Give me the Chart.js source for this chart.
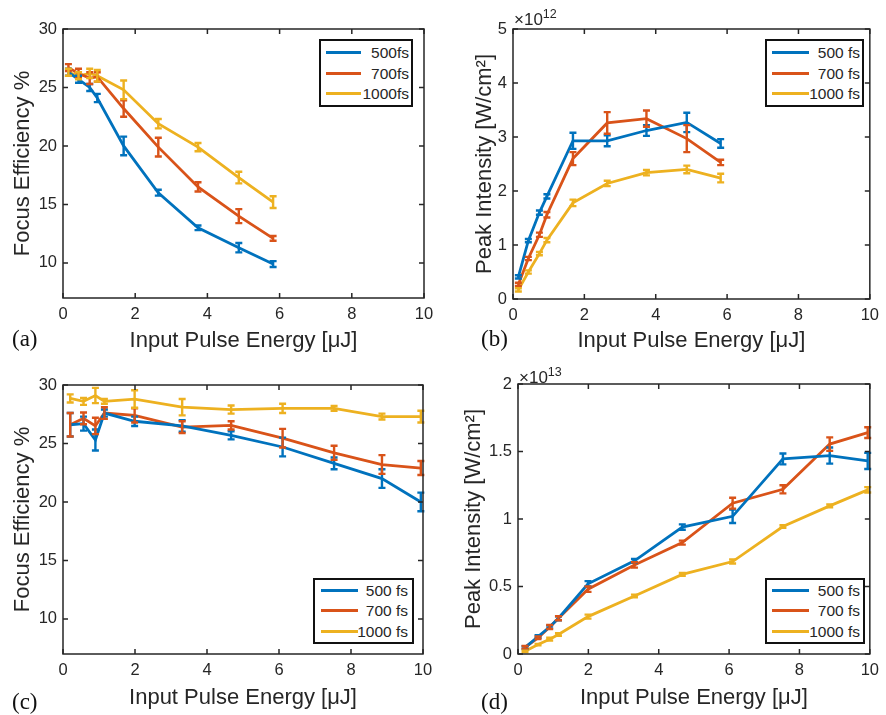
<!DOCTYPE html>
<html>
<head>
    <title>Focus efficiency and peak intensity</title>
    <script src="https://cdn.jsdelivr.net/npm/chart.js"></script>
    <style>
        body { margin: 0; background: #fff; }
        #fig {
            position: relative;
            width: 886px;
            height: 715px;
            background: #fff;
            font-family: "Liberation Sans", Arial, sans-serif;
            color: #262626;
        }
        #fig canvas { position: absolute; }
        .tag {
            position: absolute;
            font-family: "Liberation Serif", "Times New Roman", serif;
            font-size: 23px;
            line-height: 1;
            color: #111;
        }
        .mult { position: absolute; font-size: 17px; line-height: 1; }
        .mult sup { font-size: 12.5px; vertical-align: 7px; }
        .legend {
            position: absolute;
            box-sizing: border-box;
            border: 2px solid #111;
            background: #fff;
            font-size: 15.5px;
        }
        .legend .swatch { position: absolute; height: 3px; }
        .legend .txt { position: absolute; line-height: 1; white-space: nowrap; }
    </style>
</head>
<body>
<div id="fig">
    <canvas id="chartA" width="443" height="357" style="left:0;top:0"></canvas>
    <canvas id="chartB" width="443" height="357" style="left:443px;top:0"></canvas>
    <canvas id="chartC" width="443" height="358" style="left:0;top:357px"></canvas>
    <canvas id="chartD" width="443" height="358" style="left:443px;top:357px"></canvas>

    <div class="tag" style="left:12px;top:327px">(a)</div>
    <div class="tag" style="left:481px;top:327px">(b)</div>
    <div class="tag" style="left:12px;top:690px">(c)</div>
    <div class="tag" style="left:481px;top:690px">(d)</div>

    <div class="mult" style="left:514px;top:8px">×10<sup>12</sup></div>
    <div class="mult" style="left:519px;top:366px">×10<sup>13</sup></div>
</div>

<script>
    // серии и цвета (MATLAB по умолчанию)
    const namesTop = ['500fs', '700fs', '1000fs'];
    const namesFs = ['500 fs', '700 fs', '1000 fs'];
    const colors = ['#0072BD', '#D95319', '#EDB120'];

    // (a), (b): энергия импульса, мкДж
    const energyAB = [0.15, 0.43, 0.74, 0.95, 1.68, 2.64, 3.74, 4.87, 5.82];

    const effA500 = [26.3, 25.7, 25.0, 24.1, 20.0, 16.0, 13.0, 11.3, 9.9];
    const effA500Err = [0.3, 0.3, 0.3, 0.35, 0.8, 0.25, 0.2, 0.4, 0.25];
    const effA700 = [26.7, 26.2, 25.8, 25.9, 23.2, 19.9, 16.5, 14.0, 12.1];
    const effA700Err = [0.3, 0.4, 0.5, 0.4, 0.7, 0.8, 0.4, 0.6, 0.2];
    const effA1000 = [26.3, 26.0, 26.2, 26.0, 24.8, 21.9, 19.9, 17.3, 15.2];
    const effA1000Err = [0.3, 0.3, 0.4, 0.5, 0.8, 0.4, 0.35, 0.5, 0.5];

    // пиковая интенсивность, x10^12 Вт/см2
    const peakB500 = [0.41, 1.08, 1.6, 1.9, 2.93, 2.93, 3.12, 3.27, 2.88];
    const peakB500Err = [0.03, 0.03, 0.04, 0.04, 0.15, 0.1, 0.1, 0.18, 0.08];
    const peakB700 = [0.27, 0.75, 1.19, 1.56, 2.6, 3.26, 3.34, 2.97, 2.53];
    const peakB700Err = [0.03, 0.03, 0.04, 0.05, 0.12, 0.2, 0.15, 0.25, 0.05];
    const peakB1000 = [0.17, 0.5, 0.84, 1.09, 1.78, 2.14, 2.34, 2.4, 2.24];
    const peakB1000Err = [0.03, 0.03, 0.03, 0.04, 0.06, 0.05, 0.05, 0.07, 0.08];

    // (c), (d)
    const energyCD = [0.2, 0.57, 0.9, 1.15, 1.99, 3.31, 4.67, 6.1, 7.53, 8.86, 9.94];

    const effC500 = [26.6, 26.7, 25.3, 27.6, 26.9, 26.5, 25.7, 24.7, 23.3, 22.0, 20.0];
    const effC500Err = [1.0, 0.6, 0.9, 0.3, 0.4, 0.5, 0.35, 0.8, 0.5, 0.8, 0.8];
    const effC700 = [26.6, 27.15, 26.5, 27.6, 27.4, 26.4, 26.55, 25.45, 24.2, 23.2, 22.9];
    const effC700Err = [1.0, 0.5, 0.7, 0.5, 0.6, 0.5, 0.35, 0.8, 0.6, 0.8, 0.6];
    const effC1000 = [28.85, 28.6, 29.1, 28.6, 28.8, 28.1, 27.9, 28.0, 28.0, 27.3, 27.3];
    const effC1000Err = [0.35, 0.3, 0.65, 0.2, 0.75, 0.7, 0.35, 0.4, 0.2, 0.25, 0.5];

    // пиковая интенсивность, x10^13 Вт/см2
    const peakD500 = [0.047, 0.13, 0.2, 0.265, 0.52, 0.69, 0.94, 1.02, 1.445, 1.47, 1.43];
    const peakD500Err = [0.01, 0.01, 0.01, 0.015, 0.02, 0.015, 0.02, 0.05, 0.04, 0.06, 0.06];
    const peakD700 = [0.05, 0.12, 0.2, 0.265, 0.48, 0.66, 0.825, 1.117, 1.22, 1.555, 1.64];
    const peakD700Err = [0.01, 0.01, 0.015, 0.015, 0.02, 0.02, 0.015, 0.04, 0.03, 0.05, 0.04];
    const peakD1000 = [0.02, 0.07, 0.11, 0.145, 0.277, 0.43, 0.59, 0.685, 0.944, 1.097, 1.216];
    const peakD1000Err = [0.005, 0.005, 0.01, 0.01, 0.015, 0.01, 0.01, 0.015, 0.01, 0.01, 0.02];

    // подписи делений
    const xTicks = [0, 2, 4, 6, 8, 10];
    const effTicks = [10, 15, 20, 25, 30];
    const peakTicksB = [0, 1, 2, 3, 4, 5];
    const peakTicksD = [0, 0.5, 1, 1.5, 2];

    const xTitle = 'Input Pulse Energy [μJ]';
    const effTitle = 'Focus Efficiency %';
    const peakTitle = 'Peak Intensity [W/cm²]';

    // рамка MATLAB + планки погрешностей
    const matlabBox = {
        id: 'matlabBox',
        afterDatasetsDraw(chart) {
            const ctx = chart.ctx;
            const a = chart.chartArea;
            const x = chart.scales.x, y = chart.scales.y;
            ctx.save();
            chart.data.datasets.forEach(ds => {
                ctx.strokeStyle = ds.borderColor;
                ctx.lineWidth = 2.4;
                ds.data.forEach((p, j) => {
                    const e = ds.errors[j];
                    const px = x.getPixelForValue(p.x);
                    const y1 = y.getPixelForValue(p.y - e);
                    const y2 = y.getPixelForValue(p.y + e);
                    ctx.beginPath();
                    ctx.moveTo(px, y1); ctx.lineTo(px, y2);
                    ctx.moveTo(px - 3.5, y1); ctx.lineTo(px + 3.5, y1);
                    ctx.moveTo(px - 3.5, y2); ctx.lineTo(px + 3.5, y2);
                    ctx.stroke();
                });
            });
            ctx.strokeStyle = '#262626';
            ctx.lineWidth = 1.5;
            ctx.strokeRect(a.left, a.top, a.right - a.left, a.bottom - a.top);
            ctx.beginPath();
            x.ticks.forEach(t => {
                const px = x.getPixelForValue(t.value);
                ctx.moveTo(px, a.bottom); ctx.lineTo(px, a.bottom - 5);
                ctx.moveTo(px, a.top); ctx.lineTo(px, a.top + 5);
            });
            y.ticks.forEach(t => {
                const py = y.getPixelForValue(t.value);
                ctx.moveTo(a.left, py); ctx.lineTo(a.left + 5, py);
                ctx.moveTo(a.right, py); ctx.lineTo(a.right - 5, py);
            });
            ctx.stroke();
            ctx.restore();
        }
    };

    function makeDatasets(xs, series, errs) {
        return series.map((ys, i) => ({
            data: xs.map((v, j) => ({ x: v, y: ys[j] })),
            errors: errs[i],
            borderColor: colors[i],
            backgroundColor: colors[i],
            borderWidth: 2.8,
            pointRadius: 0,
            tension: 0
        }));
    }

    function makeChart(id, datasets, yMin, yMax, yTicks, yTitle, geo) {
        return new Chart(document.getElementById(id), {
            type: 'line',
            data: { datasets: datasets },
            options: {
                responsive: false,
                animation: false,
                layout: { padding: { top: geo.top, right: geo.right, left: 0, bottom: 0 } },
                plugins: { legend: { display: false }, tooltip: { enabled: false } },
                scales: {
                    x: {
                        type: 'linear', min: 0, max: 10,
                        afterBuildTicks: s => { s.ticks = xTicks.map(v => ({ value: v })); },
                        afterFit: s => { s.height = geo.xh; },
                        grid: { display: false, drawTicks: false },
                        border: { display: false },
                        ticks: {
                            padding: 7, color: '#262626',
                            font: { family: 'Liberation Sans', size: 16.5 },
                            callback: v => String(v)
                        },
                        title: {
                            display: true, text: xTitle, color: '#262626',
                            font: { family: 'Liberation Sans', size: 22 },
                            padding: { top: 0, bottom: geo.xtPad }
                        }
                    },
                    y: {
                        type: 'linear', min: yMin, max: yMax,
                        afterBuildTicks: s => { s.ticks = yTicks.map(v => ({ value: v })); },
                        afterFit: s => { s.width = geo.yw; },
                        grid: { display: false, drawTicks: false },
                        border: { display: false },
                        ticks: {
                            padding: 6, color: '#262626',
                            font: { family: 'Liberation Sans', size: 16.5 },
                            callback: v => String(v)
                        },
                        title: {
                            display: true, text: yTitle, color: '#262626',
                            font: { family: 'Liberation Sans', size: 22 },
                            padding: { top: geo.ytPad, bottom: 0 }
                        }
                    }
                }
            },
            plugins: [matlabBox]
        });
    }

    makeChart('chartA',
        makeDatasets(energyAB, [effA500, effA700, effA1000], [effA500Err, effA700Err, effA1000Err]),
        7, 30, effTicks, effTitle,
        { top: 29, right: 19, yw: 63, xh: 59, xtPad: 3, ytPad: 10 });

    makeChart('chartB',
        makeDatasets(energyAB, [peakB500, peakB700, peakB1000], [peakB500Err, peakB700Err, peakB1000Err]),
        0, 5, peakTicksB, peakTitle,
        { top: 29, right: 11, yw: 70, xh: 58, xtPad: 3, ytPad: 29 });

    makeChart('chartC',
        makeDatasets(energyCD, [effC500, effC700, effC1000], [effC500Err, effC700Err, effC1000Err]),
        7, 30, effTicks, effTitle,
        { top: 28, right: 20, yw: 63, xh: 61, xtPad: 4, ytPad: 10 });

    makeChart('chartD',
        makeDatasets(energyCD, [peakD500, peakD700, peakD1000], [peakD500Err, peakD700Err, peakD1000Err]),
        0, 2, peakTicksD, peakTitle,
        { top: 27, right: 12, yw: 75, xh: 61, xtPad: 4, ytPad: 18 });

    // легенды в рамке, как в MATLAB
    function legend(left, top, w, h, names, rows, lineX, lineW, textPad) {
        const box = document.createElement('div');
        box.className = 'legend';
        box.style.cssText = `left:${left}px;top:${top}px;width:${w}px;height:${h}px`;
        names.forEach((n, i) => {
            const sw = document.createElement('div');
            sw.className = 'swatch';
            sw.style.cssText = `left:${lineX}px;width:${lineW}px;top:${rows[i] - 3}px;background:${colors[i]}`;
            const t = document.createElement('div');
            t.className = 'txt';
            t.textContent = n;
            t.style.cssText = `right:${textPad}px;top:${rows[i] - 9}px`;
            box.appendChild(sw);
            box.appendChild(t);
        });
        document.getElementById('fig').appendChild(box);
    }

    legend(319, 39, 94, 68, namesTop, [13, 34, 54], 5, 35, 2);
    legend(765, 39, 99, 68, namesFs, [13, 34, 54], 5, 37, 2);
    legend(313, 578, 101, 66, namesFs, [12, 32, 53], 6, 37, 4);
    legend(765, 578, 100, 66, namesFs, [12, 32, 53], 5, 37, 3);
</script>
</body>
</html>
